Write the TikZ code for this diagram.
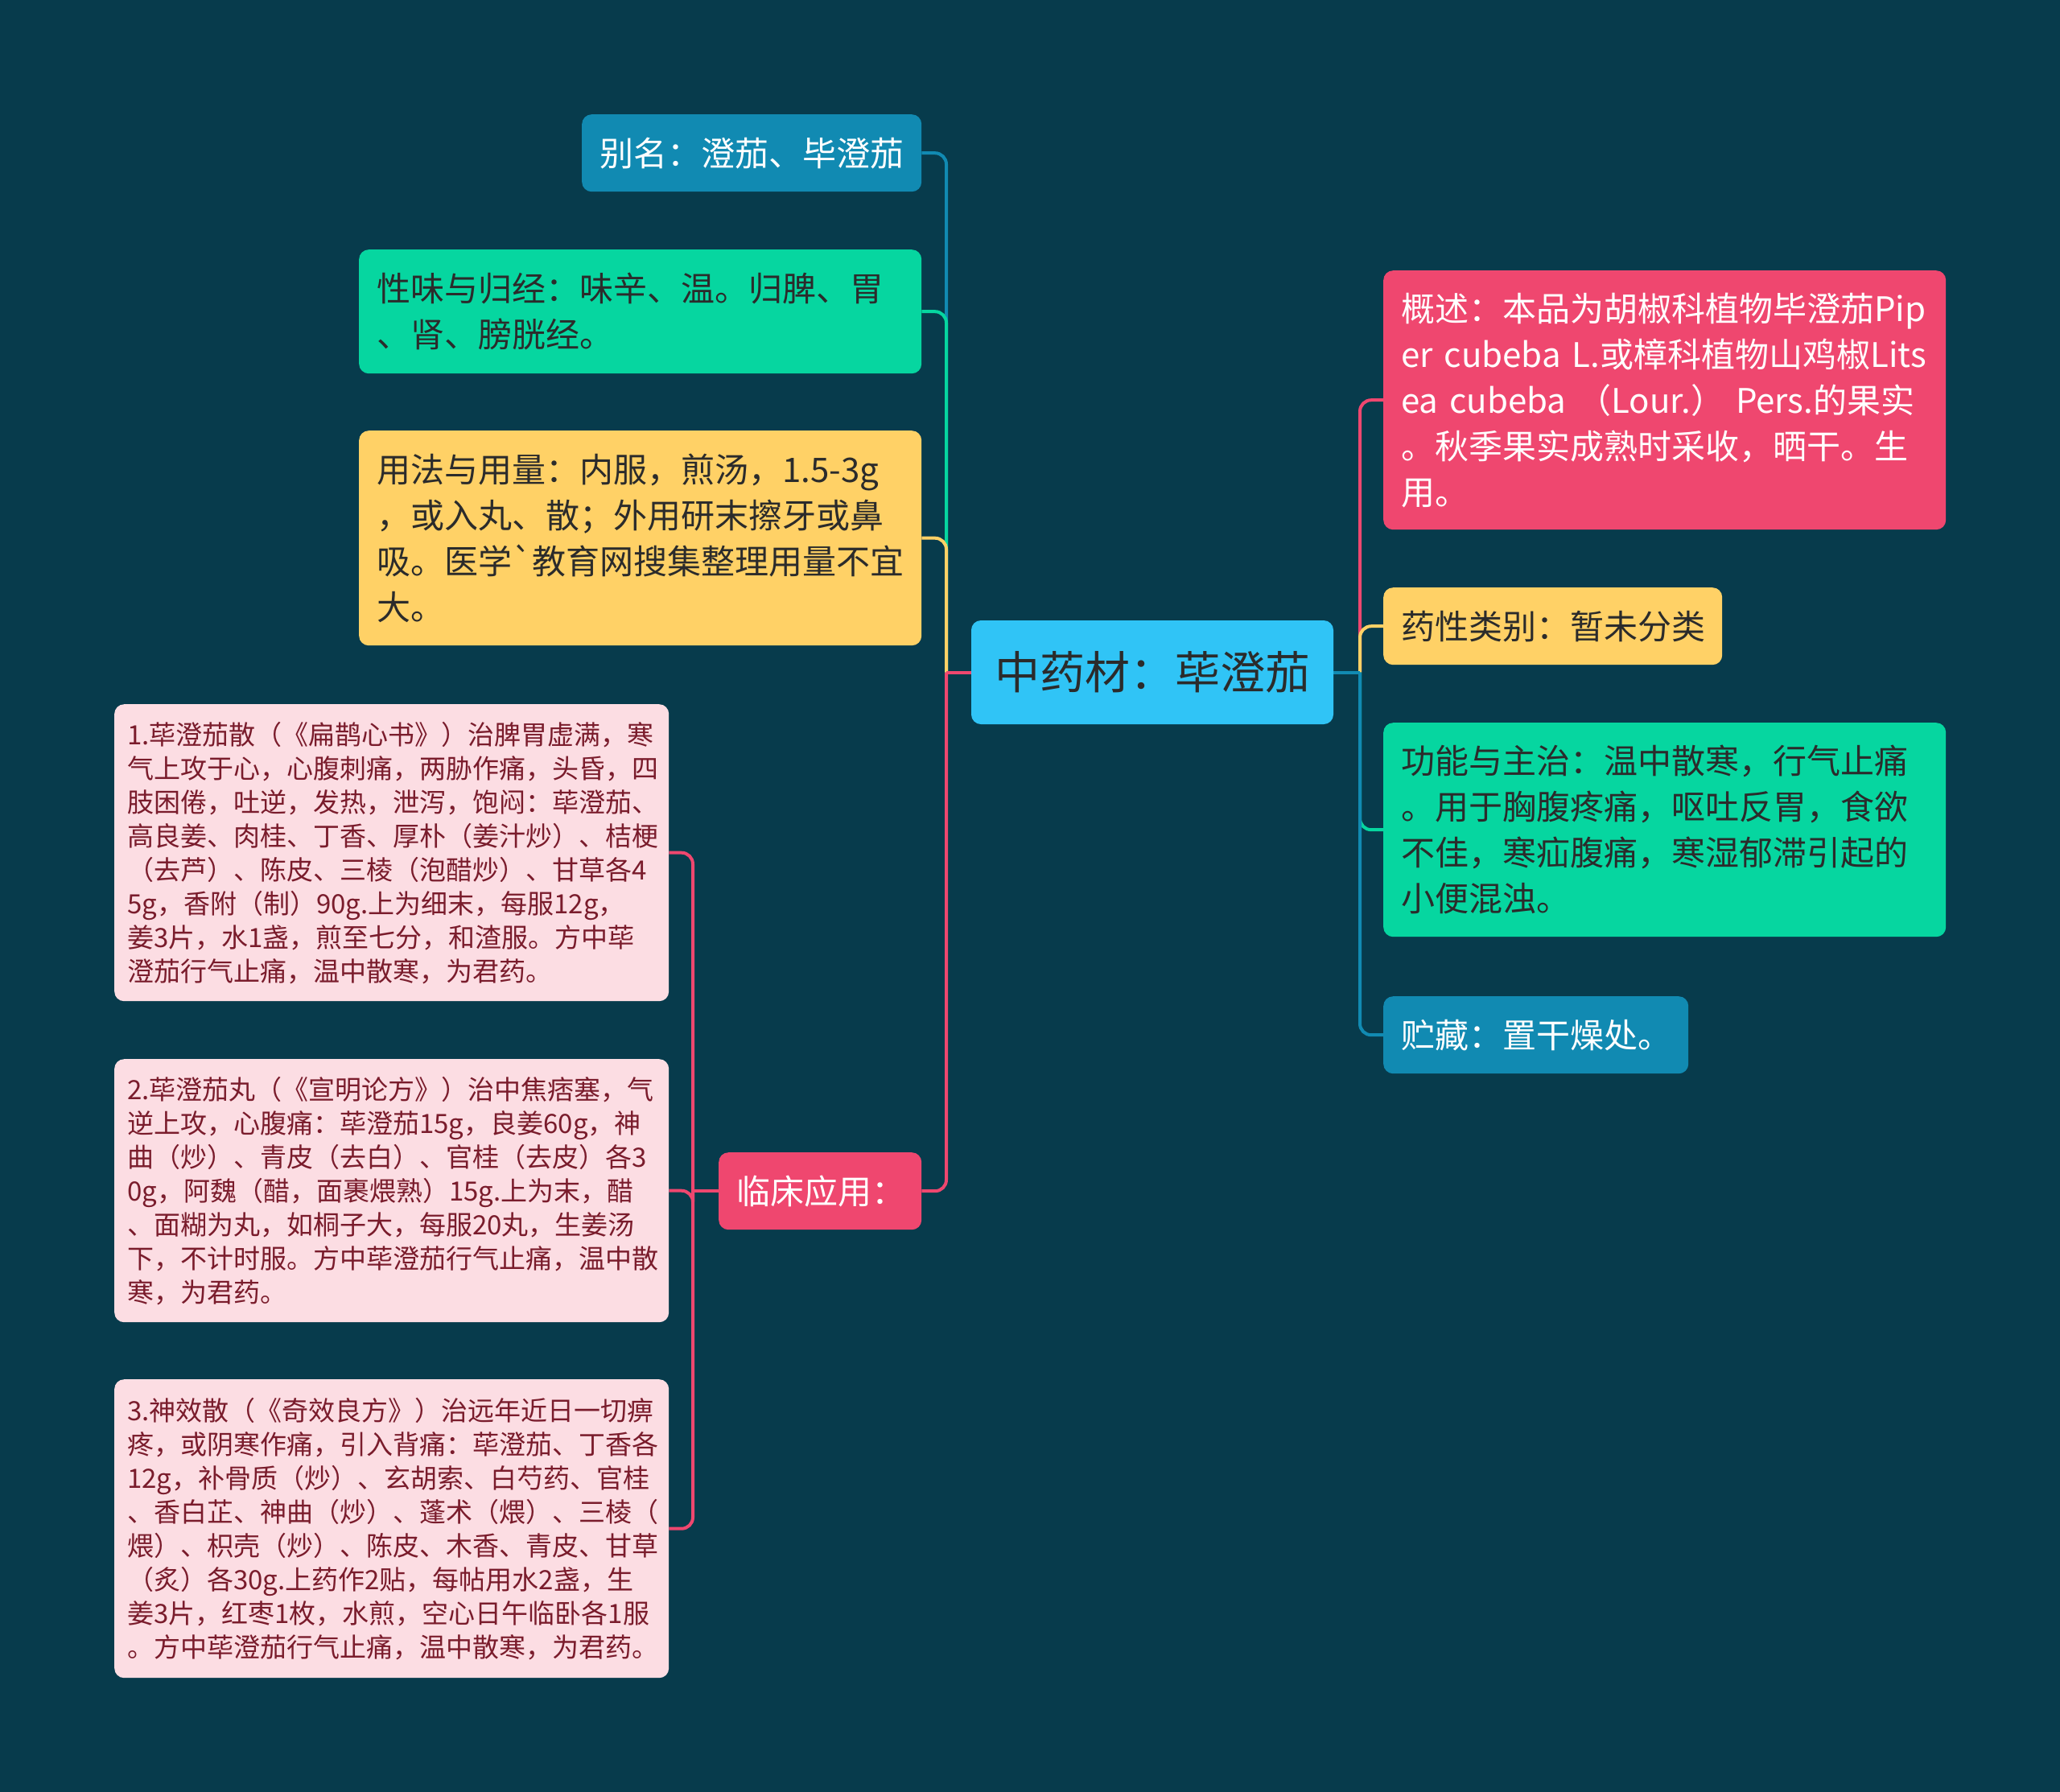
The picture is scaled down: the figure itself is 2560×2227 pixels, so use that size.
\documentclass[tikz,border=0pt]{standalone}
\usepackage{fontspec}
\newfontfamily\cjkfont{Noto Sans CJK SC}
\usetikzlibrary{backgrounds}
\definecolor{bgteal}{HTML}{073B4C}
\definecolor{tred}{HTML}{EF476F}
\definecolor{tyellow}{HTML}{FFD166}
\definecolor{tgreen}{HTML}{06D6A0}
\definecolor{tblue}{HTML}{118AB2}
\definecolor{tsky}{HTML}{30C4F6}
\definecolor{pinkbg}{HTML}{FCDDE3}
\definecolor{pinktxt}{HTML}{7A1C2C}
\definecolor{darktxt}{HTML}{2B2B2B}

\begin{document}
\begin{tikzpicture}[x=1pt,y=-1pt,
    box/.style={rounded corners=12pt, inner xsep=22pt, inner ysep=4pt, align=left, anchor=north west},
    mid/.style={box, font=\cjkfont\fontsize{42pt}{57pt}\selectfont},
    rx/.style={box, inner xsep=16pt, fill=pinkbg, text=pinktxt, text width=657pt, font=\cjkfont\fontsize{33pt}{42pt}\selectfont},
    link/.style={line width=4pt, rounded corners=14pt, draw=#1}]
        \useasboundingbox (0,0) rectangle (2560,2227);
        \node[fill=tsky, text=darktxt, rounded corners=12pt, minimum width=450pt, minimum height=129pt,
              font=\cjkfont\fontsize{56pt}{60pt}\selectfont] (root) at (1432,835.5) {中药材：荜澄茄};

        % left side
        \node[mid, fill=tblue, text=white, text width=378pt, minimum height=96pt] (alias) at (723,142) {别名：澄茄、毕澄茄};
        \node[mid, fill=tgreen, text=darktxt, text width=655pt, minimum height=154pt] (taste) at (446,310)
            {性味与归经：味辛、温。归脾、胃\\、肾、膀胱经。};
        \node[mid, fill=tyellow, text=darktxt, text width=655pt, minimum height=267pt] (usage) at (446,535)
            {用法与用量：内服，煎汤，1.5-3g\\，或入丸、散；外用研末擦牙或鼻\\吸。医学`教育网搜集整理用量不宜\\大。};
        \node[mid, fill=tred, text=white, text width=208pt, minimum height=96pt] (clinic) at (893,1432) {临床应用：};

        \node[rx, minimum height=369pt] (rx1) at (142,875)
            {1.荜澄茄散（《扁鹊心书》）治脾胃虚满，寒\\气上攻于心，心腹刺痛，两胁作痛，头昏，四\\肢困倦，吐逆，发热，泄泻，饱闷：荜澄茄、\\高良姜、肉桂、丁香、厚朴（姜汁炒）、桔梗\\（去芦）、陈皮、三棱（泡醋炒）、甘草各4\\5g，香附（制）90g.上为细末，每服12g，\\姜3片，水1盏，煎至七分，和渣服。方中荜\\澄茄行气止痛，温中散寒，为君药。};
        \node[rx, minimum height=327pt] (rx2) at (142,1316)
            {2.荜澄茄丸（《宣明论方》）治中焦痞塞，气\\逆上攻，心腹痛：荜澄茄15g，良姜60g，神\\曲（炒）、青皮（去白）、官桂（去皮）各3\\0g，阿魏（醋，面裹煨熟）15g.上为末，醋\\、面糊为丸，如桐子大，每服20丸，生姜汤\\下，不计时服。方中荜澄茄行气止痛，温中散\\寒，为君药。};
        \node[rx, minimum height=371pt] (rx3) at (142,1714)
            {3.神效散（《奇效良方》）治远年近日一切痹\\疼，或阴寒作痛，引入背痛：荜澄茄、丁香各\\12g，补骨质（炒）、玄胡索、白芍药、官桂\\、香白芷、神曲（炒）、蓬术（煨）、三棱（\\煨）、枳壳（炒）、陈皮、木香、青皮、甘草\\（炙）各30g.上药作2贴，每帖用水2盏，生\\姜3片，红枣1枚，水煎，空心日午临卧各1服\\。方中荜澄茄行气止痛，温中散寒，为君药。};

        % right side
        \node[mid, fill=tred, text=white, text width=655pt, minimum height=322pt] (summary) at (1719,336)
            {概述：本品为胡椒科植物毕澄茄Pip\\er~cubeba~L.或樟科植物山鸡椒Lits\\ea~cubeba~（Lour.）~Pers.的果实\\。秋季果实成熟时采收，晒干。生\\用。};
        \node[mid, fill=tyellow, text=darktxt, text width=377pt, minimum height=96pt] (category) at (1719,730) {药性类别：暂未分类};
        \node[mid, fill=tgreen, text=darktxt, text width=655pt, minimum height=266pt] (function) at (1719,898)
            {功能与主治：温中散寒，行气止痛\\。用于胸腹疼痛，呕吐反胃，食欲\\不佳，寒疝腹痛，寒湿郁滞引起的\\小便混浊。};
        \node[mid, fill=tblue, text=white, text width=335pt, minimum height=96pt] (storage) at (1719,1238) {贮藏：置干燥处。};

        \coordinate (ltrunk) at (1176,0);
        \coordinate (rtrunk) at (1690,0);
        \coordinate (strunk) at (861,0);

        \begin{scope}[on background layer]
        \fill[bgteal] (0,0) rectangle (2560,2227);
        \foreach \nm/\col in {alias/tblue, taste/tgreen, usage/tyellow, clinic/tred}
            \draw[link=\col] (root.west -| ltrunk) |- (\nm.east);
        \draw[link=tred] (root.west) -- (root.west -| ltrunk);
        \foreach \nm/\col in {summary/tred, category/tyellow, function/tgreen, storage/tblue}
            \draw[link=\col] (root.east -| rtrunk) |- (\nm.west);
        \draw[link=tblue] (root.east) -- (root.east -| rtrunk);
        \foreach \nm in {rx1, rx2, rx3}
            \draw[link=tred] (clinic.west -| strunk) |- (\nm.east);
        \draw[link=tred] (clinic.west) -- (clinic.west -| strunk);
        \end{scope}
\end{tikzpicture}
\end{document}
